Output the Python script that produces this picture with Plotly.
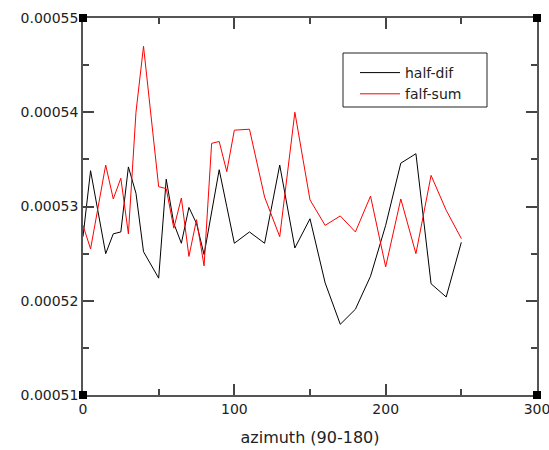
import plotly.graph_objects as go

azimuth = [0, 5, 15, 20, 25, 30, 35, 40, 50, 55, 60, 65, 70, 75, 80, 85, 90, 95,
           100, 110, 120, 130, 140, 150, 160, 170, 180, 190, 200, 210, 220, 230, 240, 250]
half_dif = [0.0005268, 0.0005338, 0.0005250, 0.0005271, 0.0005273, 0.0005342, 0.0005314,
            0.0005252, 0.0005224, 0.0005329, 0.0005282, 0.0005261, 0.0005299, 0.0005282,
            0.0005249, 0.0005294, 0.0005339, 0.0005300,
            0.0005261, 0.0005273, 0.0005261, 0.0005344, 0.0005256, 0.0005287, 0.0005219,
            0.0005175, 0.0005191, 0.0005226, 0.0005280, 0.0005346, 0.0005356, 0.0005218,
            0.0005204, 0.0005262]
falf_sum = [0.0005280, 0.0005255, 0.0005344, 0.0005308, 0.0005330, 0.0005271, 0.0005400,
            0.0005470, 0.0005321, 0.0005319, 0.0005277, 0.0005309, 0.0005247, 0.0005286,
            0.0005237, 0.0005367, 0.0005369, 0.0005337,
            0.0005381, 0.0005382, 0.0005310, 0.0005268, 0.0005400, 0.0005307, 0.0005280,
            0.0005290, 0.0005273, 0.0005311, 0.0005236, 0.0005308, 0.0005250, 0.0005333,
            0.0005296, 0.0005266]

x_range = [0, 300]
y_range = [0.00051, 0.00055]
x_ticks = [0, 100, 200, 300]
x_labels = ["0", "100", "200", "300"]
y_ticks = [0.00051, 0.00052, 0.00053, 0.00054, 0.00055]
y_labels = ["0.00051", "0.00052", "0.00053", "0.00054", "0.00055"]

font = dict(family="DejaVu Sans", size=14, color="#222")

fig = go.Figure()
fig.add_trace(go.Scatter(x=azimuth, y=half_dif, mode="lines", name="half-dif",
                         line=dict(color="black", width=1)))
fig.add_trace(go.Scatter(x=azimuth, y=falf_sum, mode="lines", name="falf-sum",
                         line=dict(color="red", width=1)))

axis_common = dict(showgrid=False, zeroline=False, showline=True, linecolor="#555",
                   linewidth=1.5, mirror="allticks", ticks="inside", tickcolor="#444",
                   tickwidth=1.5, ticklen=11, tickmode="array", automargin=False,
                   ticklabeloverflow="allow")
fig.update_xaxes(range=x_range, tickvals=x_ticks, ticktext=x_labels,
                 title=dict(text="azimuth (90-180)", font=dict(family="DejaVu Sans", size=16, color="#222"),
                            standoff=16),
                 tickfont=font,
                 minor=dict(ticks="inside", tickvals=[50, 150, 250], ticklen=6,
                            tickcolor="#444", tickwidth=1.5),
                 **axis_common)
fig.update_yaxes(range=y_range, tickvals=y_ticks, ticktext=y_labels, tickfont=font,
                 minor=dict(ticks="inside", tickvals=[0.000515, 0.000525, 0.000535, 0.000545],
                            ticklen=6, tickcolor="#444", tickwidth=1.5),
                 **axis_common)

# corner squares
for cx in (0, 1):
    for cy in (0, 1):
        fig.add_shape(type="rect", xref="paper", yref="paper",
                      xsizemode="pixel", ysizemode="pixel", xanchor=cx, yanchor=cy,
                      x0=-4, x1=4, y0=-4, y1=4, line=dict(width=0), fillcolor="black",
                      layer="above")

# legend frame
fig.add_shape(type="rect", xref="paper", yref="paper",
              x0=(343 - 83) / 454, x1=(487 - 83) / 454,
              y0=(395 - 107) / 377, y1=(395 - 53) / 377,
              line=dict(color="#222", width=1), fillcolor="rgba(0,0,0,0)", layer="above")

fig.update_layout(
    width=549, height=450,
    margin=dict(l=83, r=12, t=18, b=55),
    paper_bgcolor="white", plot_bgcolor="white",
    font=font,
    legend=dict(x=(355 - 83) / 454, y=(395 - 57) / 377, xanchor="left", yanchor="top",
                borderwidth=0, bgcolor="rgba(0,0,0,0)",
                font=dict(family="DejaVu Sans", size=14, color="#222"),
                tracegroupgap=0, itemwidth=40),
    showlegend=True,
)
fig.write_html("out.html")
